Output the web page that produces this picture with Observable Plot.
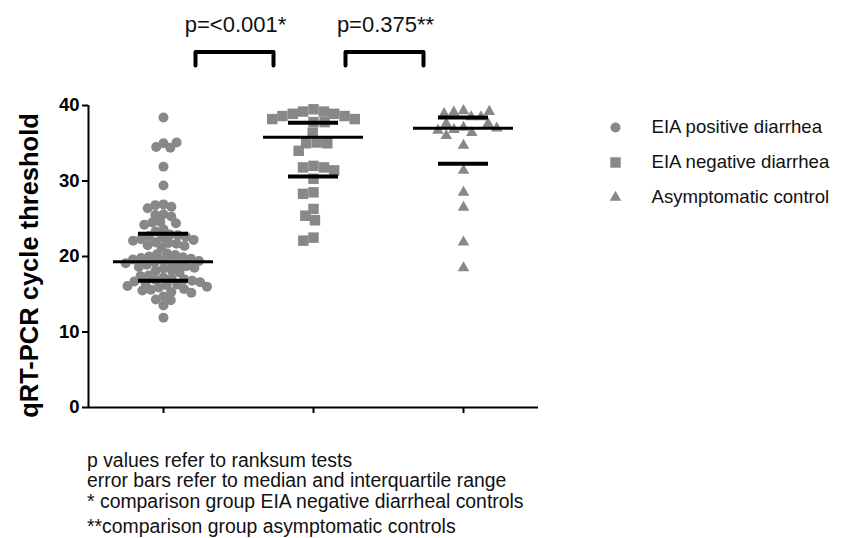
<!DOCTYPE html>
<html><head><meta charset="utf-8">
<script src="https://cdn.jsdelivr.net/npm/d3@7"></script>
<script src="https://cdn.jsdelivr.net/npm/@observablehq/plot@0.6"></script>
<style>
body{margin:0;background:#fff;}
#wrap{position:relative;width:843px;height:538px;overflow:hidden;font-family:'Liberation Sans',Arial,sans-serif;color:#111;background:#fff;}
#chart{position:absolute;left:0;top:0;width:843px;height:538px;}
#legend{position:absolute;left:590px;top:100px;width:253px;height:120px;}
#wrap svg{display:block;max-width:none !important;}
.note{position:absolute;left:87px;font-size:19.4px;line-height:18px;white-space:pre;}
</style></head><body><div id="wrap"><div id="chart"></div><div id="legend"></div></div>
<script>
const categories = ["EIA positive diarrhea", "EIA negative diarrhea", "Asymptomatic control"];
const eiaPositive = [38.4, 35.0, 34.5, 34.4, 35.1, 31.9, 29.4, 26.9, 26.8, 26.6, 26.4, 25.6, 25.5, 25.3,
  24.6, 24.5, 24.4, 24.2, 23.6, 23.3, 22.9, 22.8, 22.7, 22.6, 22.5, 22.3, 22.2, 22.1, 21.9, 21.8, 21.7,
  21.5, 21.4, 21.2, 20.4, 20.3, 20.2, 20.0, 19.9, 19.8, 19.7, 19.6, 19.5, 19.4, 19.3, 19.2, 19.1, 19.0,
  18.9, 18.7, 18.6, 18.5, 18.4, 18.2, 18.1, 17.9, 17.5, 17.4, 17.2, 17.1, 17.0, 16.9, 16.8, 16.7, 16.6,
  16.5, 16.3, 16.2, 16.1, 16.0, 15.9, 15.7, 15.6, 15.5, 15.3, 15.2, 14.7, 14.3, 14.2, 13.5, 11.9];
const eiaNegative = [39.5, 39.2, 39.2, 38.9, 38.9, 38.6, 38.6, 38.2, 38.2, 37.8, 37.8, 36.4, 35.1, 35.0,
  35.0, 34.0, 32.0, 31.8, 31.8, 31.4, 30.3, 28.5, 28.3, 26.3, 25.4, 24.8, 22.5, 22.1];
const asymptomatic = [39.3, 39.1, 38.5, 38.5, 38.9, 39.2, 37.1, 36.8, 36.4, 37.6, 37.6, 36.0, 36.7, 37.0,
  34.7, 31.4, 28.5, 26.5, 21.9, 18.5];
const medians = [19.3, 35.8, 37.0];
const q1 = [16.8, 30.6, 32.3];
const q3 = [23.0, 37.7, 38.4];
const yTicks = [0, 10, 20, 30, 40];
const yLabel = "qRT-PCR cycle threshold";
const comparisonLabels = ["p=<0.001*", "p=0.375**"];
const notes = ["p values refer to ranksum tests",
  "error bars refer to median and interquartile range",
  "* comparison group EIA negative diarrheal controls",
  "**comparison group asymptomatic controls"];

// ---- tables built from the arrays ----
const seriesValues = [eiaPositive, eiaNegative, asymptomatic];
const points = categories.flatMap((g, i) => seriesValues[i].map(v => ({group: g, value: v})));
const stats = categories.map((g, i) => ({group: g, median: medians[i], q1: q1[i], q3: q3[i]}));
const comparisons = comparisonLabels.map((label, i) => ({id: i, a: categories[i], b: categories[i + 1], label}));

// ---- styling / layout ----
const gray = "#888888";
const shapes = ["circle", "square", "triangle"];
const sizes = [5, 5.9, 4.3];
const pads = [-1.8, -1.2, 1.2];
const font = "'Liberation Sans', Arial, sans-serif";
const yDomain = [0, 40];
const bracketHalf = 0.52;   // in facet x units (facet half-width = 1)
const bracketTop = 47.1, bracketFoot = 45.3, pLabelY = 49.7; // y units, above the 40 limit
const bracketPath = comparisons.flatMap(c => [
  {id: c.id, fx: c.a, x: 1 - bracketHalf, y: bracketFoot},
  {id: c.id, fx: c.a, x: 1 - bracketHalf, y: bracketTop},
  {id: c.id, fx: c.a, x: 1 + bracketHalf, y: bracketTop},
  {id: c.id, fx: c.a, x: 1 + bracketHalf, y: bracketFoot}
]);

const chart = Plot.plot({
  width: 843, height: 538,
  marginLeft: 87, marginRight: 305, marginTop: 105, marginBottom: 131,
  style: {fontFamily: font, color: "#000", background: "transparent", overflow: "visible"},
  fx: {domain: categories, padding: 0},
  x: {domain: [-1, 1], axis: null},
  y: {domain: yDomain, nice: false},
  marks: [
    ...categories.map((g, i) => Plot.dot(points.filter(d => d.group === g),
      Plot.dodgeX({anchor: "middle", padding: pads[i]}, {y: "value", fx: "group", r: sizes[i], symbol: shapes[i], fill: gray}))),
    Plot.ruleY(stats, {fx: "group", y: "median", insetLeft: 25, insetRight: 25, strokeWidth: 3, stroke: "#000"}),
    Plot.ruleY(stats, {fx: "group", y: "q1", insetLeft: 50, insetRight: 50, strokeWidth: 4, stroke: "#000"}),
    Plot.ruleY(stats, {fx: "group", y: "q3", insetLeft: 50, insetRight: 50, strokeWidth: 4, stroke: "#000"}),
    Plot.ruleX(stats, {fx: "group", y1: "q1", y2: "q3", strokeWidth: 4, stroke: "#000"}),
    Plot.ruleY([0], {strokeWidth: 2, stroke: "#000"}),
    Plot.ruleX([categories[0]], {fx: d => d, x: () => -1, strokeWidth: 2, stroke: "#000"}),
    Plot.axisY({ticks: yTicks, tickSize: 6, tickPadding: 3, fontSize: 18.5, fontWeight: "bold", strokeWidth: 2, label: null, tickFormat: d3.format("d")}),
    Plot.axisFx({anchor: "bottom", tickSize: 6, strokeWidth: 2, tickFormat: () => "", label: null}),
    Plot.text([yLabel], {fx: () => categories[0], x: () => -1, y: () => d3.mean(yDomain), text: d => d, rotate: -90, dx: -59, dy: 9,
      fontSize: 25.5, fontWeight: "bold", fill: "#000", textAnchor: "middle", lineAnchor: "middle"}),
    Plot.line(bracketPath, {fx: "fx", x: "x", y: "y", z: "id", stroke: "#000", strokeWidth: 4, strokeLinejoin: "round", dx: -4}),
    Plot.text(comparisons, {fx: "a", x: () => 1, y: () => pLabelY, text: "label", lineAnchor: "bottom", fontSize: 22, fill: "#111", dx: -3})
  ]
});
document.getElementById("chart").append(chart);

const legend = Plot.plot({
  width: 253, height: 120, margin: 0,
  style: {fontFamily: font, background: "transparent", overflow: "visible"},
  y: {type: "point", domain: categories, range: [26, 97], padding: 0, axis: null},
  marks: [
    ...categories.map((g, i) => Plot.dot([g], {y: d => d, frameAnchor: "left", dx: 25, symbol: shapes[i], r: sizes[i], fill: gray})),
    Plot.text(categories, {y: d => d, text: d => d, frameAnchor: "left", dx: 61, textAnchor: "start", fontSize: 18.6, fill: "#111"})
  ]
});
document.getElementById("legend").append(legend);

const noteTops = [450.5, 470.5, 491.5, 517];
const wrap = document.getElementById("wrap");
notes.forEach((t, i) => {
  const div = document.createElement("div");
  div.className = "note";
  div.style.top = noteTops[i] + "px";
  div.textContent = t;
  wrap.append(div);
});
</script></body></html>
